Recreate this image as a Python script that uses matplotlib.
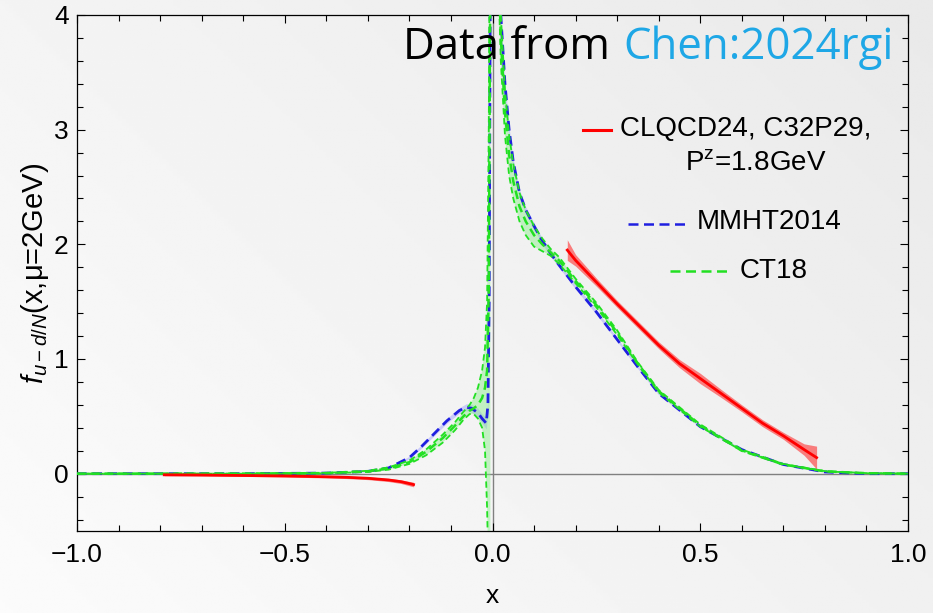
import numpy as np
import matplotlib
matplotlib.use("Agg")
import matplotlib.pyplot as plt

plt.rcParams['font.family'] = ['Liberation Sans', 'DejaVu Sans']
plt.rcParams['mathtext.fontset'] = 'custom'
plt.rcParams['mathtext.rm'] = 'Liberation Sans'
plt.rcParams['mathtext.it'] = 'Liberation Sans:italic'

# CLQCD24 lattice result (red band), two x-ranges
lat_neg_x = [-0.79, -0.7, -0.6, -0.5, -0.4, -0.35, -0.3, -0.25, -0.22, -0.19]
lat_neg_y = [-0.01, -0.012, -0.016, -0.02, -0.027, -0.032, -0.04, -0.055, -0.07, -0.095]
lat_neg_err = [0.008, 0.008, 0.008, 0.009, 0.01, 0.011, 0.012, 0.014, 0.016, 0.02]
lat_pos_x = [0.18, 0.2, 0.25, 0.3, 0.35, 0.4, 0.45, 0.5, 0.55, 0.6, 0.65, 0.7, 0.75, 0.78]
lat_pos_y = [1.95, 1.86, 1.67, 1.48, 1.30, 1.12, 0.96, 0.83, 0.70, 0.57, 0.44, 0.33, 0.21, 0.14]
lat_pos_err = [0.09, 0.05, 0.035, 0.03, 0.03, 0.03, 0.035, 0.045, 0.035, 0.03, 0.03, 0.03, 0.05, 0.1]

# MMHT2014 (blue)
mmht_neg_x = [-1.0, -0.6, -0.4, -0.3, -0.25, -0.2, -0.17, -0.14, -0.11, -0.08, -0.063,
              -0.05, -0.035, -0.025, -0.015, -0.011, -0.008, -0.005]
mmht_neg_y = [0.0, 0.0, 0.005, 0.02, 0.05, 0.14, 0.24, 0.35, 0.46, 0.55, 0.58,
              0.57, 0.53, 0.48, 0.44, 0.6, 1.5, 4.6]
mmht_neg_err = [0.0, 0.0, 0.002, 0.005, 0.008, 0.012, 0.015, 0.018, 0.02, 0.025, 0.03,
                0.035, 0.04, 0.04, 0.05, 0.06, 0.1, 0.2]
mmht_pos_x = [0.008, 0.015, 0.02, 0.03, 0.04, 0.05, 0.065, 0.08, 0.1, 0.12, 0.14, 0.16,
              0.2, 0.25, 0.3, 0.35, 0.4, 0.5, 0.6, 0.7, 0.8, 0.9, 1.0]
mmht_pos_y = [7.0, 4.6, 4.0, 3.4, 3.0, 2.72, 2.45, 2.3, 2.16, 2.03, 1.92, 1.82,
              1.63, 1.41, 1.17, 0.93, 0.70, 0.41, 0.21, 0.08, 0.015, 0.0, 0.0]
mmht_pos_err = [0.2, 0.1, 0.08, 0.06, 0.05, 0.04, 0.035, 0.03, 0.03, 0.025, 0.025, 0.02,
                0.02, 0.02, 0.015, 0.015, 0.012, 0.01, 0.008, 0.005, 0.003, 0.0, 0.0]

# CT18 (green): central, lower and upper edges
ct_neg_x = [-1.0, -0.6, -0.4, -0.3, -0.25, -0.2, -0.16, -0.12, -0.09, -0.07, -0.055,
            -0.045, -0.035, -0.025, -0.018, -0.013, -0.009, -0.005]
ct_neg_c = [0.0, 0.0, 0.005, 0.02, 0.045, 0.1, 0.19, 0.31, 0.42, 0.5, 0.55,
            0.57, 0.6, 0.66, 0.75, 0.9, 1.6, 4.5]
ct_neg_lo = [0.0, 0.0, 0.003, 0.015, 0.035, 0.085, 0.16, 0.27, 0.38, 0.47, 0.52,
             0.52, 0.48, 0.4, 0.2, -0.3, -1.0, -1.0]
ct_neg_hi = [0.0, 0.0, 0.007, 0.025, 0.055, 0.115, 0.21, 0.34, 0.45, 0.54, 0.6,
             0.66, 0.75, 0.9, 1.1, 1.5, 3.0, 6.0]
ct_pos_x = [0.008, 0.015, 0.02, 0.03, 0.04, 0.05, 0.065, 0.08, 0.1, 0.12, 0.14, 0.16,
            0.2, 0.25, 0.3, 0.35, 0.4, 0.5, 0.6, 0.7, 0.8, 0.9, 1.0]
ct_pos_c = [6.5, 4.4, 3.8, 3.15, 2.78, 2.55, 2.33, 2.2, 2.08, 2.0, 1.93, 1.86,
            1.68, 1.47, 1.23, 0.96, 0.72, 0.42, 0.2, 0.08, 0.02, 0.004, 0.0]
ct_pos_lo = [6.0, 4.2, 3.6, 2.95, 2.6, 2.4, 2.2, 2.08, 1.98, 1.94, 1.9, 1.83,
             1.66, 1.45, 1.21, 0.95, 0.71, 0.41, 0.2, 0.08, 0.02, 0.004, 0.0]
ct_pos_hi = [7.0, 4.6, 4.0, 3.35, 2.95, 2.7, 2.45, 2.3, 2.16, 2.05, 1.96, 1.89,
             1.70, 1.49, 1.25, 0.97, 0.73, 0.43, 0.21, 0.085, 0.022, 0.005, 0.0]

x_ticks = [-1.0, -0.5, 0.0, 0.5, 1.0]
y_ticks = [0, 1, 2, 3, 4]

W, H = 933, 613
fig = plt.figure(figsize=(W / 100, H / 100), dpi=100)

# soft grey background like the slide
bg = fig.add_axes([0, 0, 1, 1], zorder=-10)
g = np.linspace(0, 1, 256)
grad = 0.985 - 0.07 * (g[None, :] * 0.6 + g[::-1, None] * 0.4)
bg.imshow(grad, cmap='gray', vmin=0, vmax=1, aspect='auto', extent=[0, 1, 0, 1])
bg.axis('off')

ax = fig.add_axes([77 / W, 1 - 531 / H, (908 - 77) / W, (531 - 15) / H])
ax.patch.set_alpha(0)

ax.axhline(0, color='#808080', lw=1, zorder=1)
ax.axvline(0, color='#808080', lw=1, zorder=1)

dash = (0, (3.5, 2))
blue = '#1f1fe0'
green = '#22e022'

# MMHT2014
for xs, ys, es in [(mmht_neg_x, mmht_neg_y, mmht_neg_err), (mmht_pos_x, mmht_pos_y, mmht_pos_err)]:
    xs, ys, es = np.array(xs), np.array(ys), np.array(es)
    ax.fill_between(xs, ys - es, ys + es, color='#9999ff', alpha=0.45, lw=0, zorder=2)
    ax.plot(xs, ys, color=blue, lw=2, ls=dash, zorder=3)

# CT18
for xs, c, lo, hi in [(ct_neg_x, ct_neg_c, ct_neg_lo, ct_neg_hi), (ct_pos_x, ct_pos_c, ct_pos_lo, ct_pos_hi)]:
    ax.fill_between(xs, lo, hi, color='#88ee88', alpha=0.45, lw=0, zorder=2)
    ax.plot(xs, lo, color=green, lw=1.3, ls=dash, zorder=4)
    ax.plot(xs, hi, color=green, lw=1.3, ls=(2, (3.5, 2)), zorder=4)
    ax.plot(xs, c, color=green, lw=1.8, ls=dash, zorder=4)

# CLQCD24
for xs, ys, es in [(lat_neg_x, lat_neg_y, lat_neg_err), (lat_pos_x, lat_pos_y, lat_pos_err)]:
    xs, ys, es = np.array(xs), np.array(ys), np.array(es)
    ax.fill_between(xs, ys - es, ys + es, color='#ff3030', alpha=0.6, lw=0, zorder=5)
    ax.plot(xs, ys, color='#ff0000', lw=2, zorder=6)

ax.set_xlim(-1, 1)
ax.set_ylim(-0.5, 4)
ax.set_xticks(x_ticks)
ax.set_xticklabels([f"{t:.1f}".replace('-', '\u2212') for t in x_ticks])
ax.set_yticks(y_ticks)
ax.set_xticks(np.arange(-1, 1.01, 0.1), minor=True)
ax.set_yticks(np.arange(-0.4, 4.0, 0.2), minor=True)
ax.tick_params(which='both', direction='in', top=True, right=True, labelsize=19, width=0.8)
ax.tick_params(which='major', length=6)
ax.tick_params(axis='x', which='major', pad=9)
ax.tick_params(axis='y', which='major', pad=6)
ax.tick_params(which='minor', length=4)
for s in ax.spines.values():
    s.set_linewidth(0.9)

ax.set_xlabel('x', fontsize=19, labelpad=12)
ax.set_ylabel(r'$f_{u-d/N}$(x,μ=2GeV)', fontsize=21, labelpad=2)

# title text in the corner
t1 = fig.text(403 / W, 1 - 48 / H, 'Data from ', fontsize=31.5, family='Open Sans', va='center', color='black')
fig.canvas.draw()
bb = t1.get_window_extent()
fig.text(bb.x1 / W + 2 / W, 1 - 48 / H, 'Chen:2024rgi', fontsize=31.5, family='Open Sans',
         va='center', color='#1ea7e6')

# hand placed legend
def fx(px):
    return px / W

def fy(py):
    return 1 - py / H

fig.add_artist(plt.Line2D([fx(583), fx(611)], [fy(130), fy(130)], color='#ff0000', lw=2.2))
fig.text(fx(620), fy(129), 'CLQCD24, C32P29,', fontsize=20, va='center')
fig.text(fx(685), fy(163), r'P$^{\mathrm{z}}$=1.8GeV', fontsize=20, va='center')
fig.add_artist(plt.Line2D([fx(628), fx(685)], [fy(224), fy(224)], color=blue, lw=1.8, ls=(0, (4, 2.2))))
fig.text(fx(697), fy(222), 'MMHT2014', fontsize=20, va='center')
fig.add_artist(plt.Line2D([fx(670), fx(727)], [fy(271), fy(271)], color=green, lw=1.8, ls=(0, (4, 2.2))))
fig.text(fx(740), fy(271), 'CT18', fontsize=20, va='center')

fig.savefig('out.png', dpi=100)
